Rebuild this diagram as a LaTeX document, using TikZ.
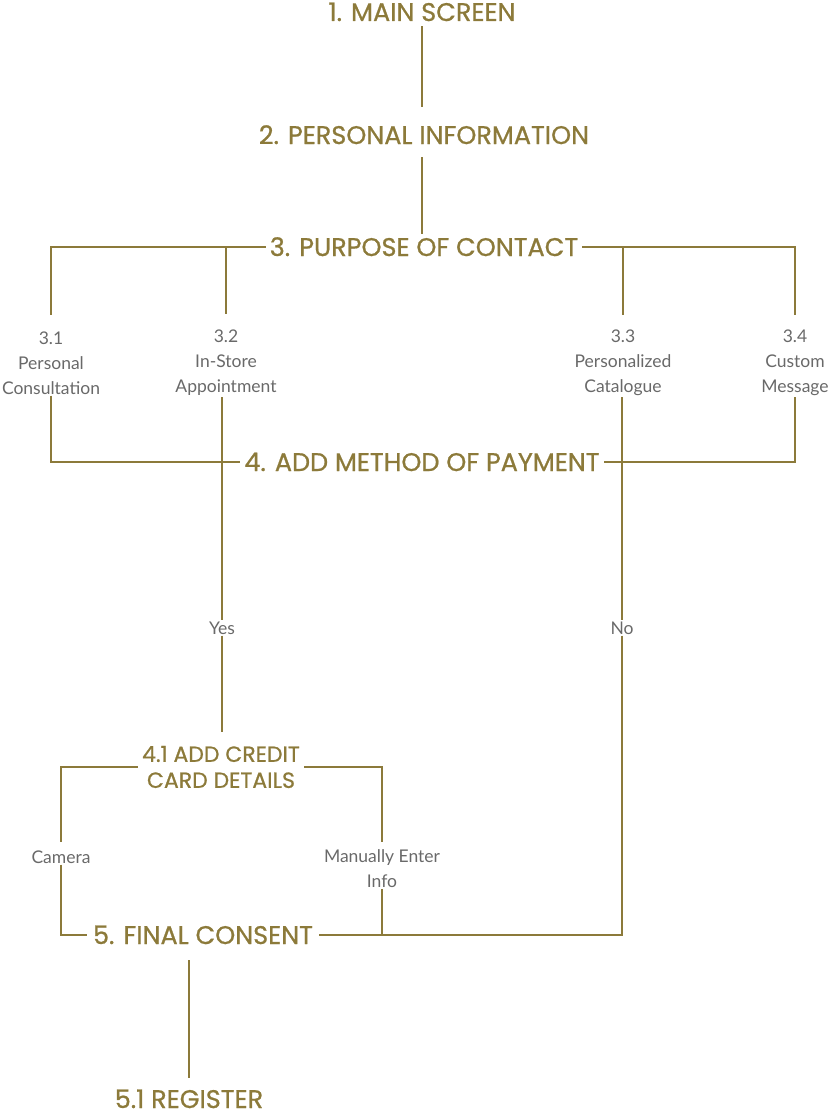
\documentclass[tikz,border=0pt]{standalone}
\usepackage{fontspec}
\usepackage{xcolor}
\setmainfont{Lato}
\newfontfamily\headfont{Poppins}[FakeBold=0.8]
\definecolor{gold}{RGB}{140,122,58}
\definecolor{labelgray}{RGB}{105,105,105}

\begin{document}
\begin{tikzpicture}[x=1pt,y=-1pt]
        \tikzset{headbase/.append style={rectangle,
                    text=gold, inner xsep=4pt, inner ysep=4pt,
                    align=center, font=\headfont\fontsize{25.5}{26}\selectfont},
                 head/.append style={headbase,
                    text height=18pt, text depth=0pt},
                 choice/.append style={rectangle,
                    text=labelgray, inner sep=1pt,
                    align=center, font=\fontsize{17.5}{25}\selectfont},
                 link/.style={draw=gold, line width=1.6pt}}
        \useasboundingbox (0,0) rectangle (830,1116);
        % main flow
        \node[head] (main) at (422,12) {1. MAIN SCREEN};
        \node[head] (info) at (424,135) {2. PERSONAL INFORMATION};
        \node[head] (purpose) at (424,247) {3. PURPOSE OF CONTACT};
        \node[choice] (c31) at (51,363) {3.1\\Personal\\Consultation};
        \node[choice] (c32) at (226,363) {3.2\\In-Store\\Appointment};
        \node[choice] (c33) at (623,363) {3.3\\Personalized\\Catalogue};
        \node[choice] (c34) at (795,363) {3.4\\Custom\\Message};
        \node[head] (payment) at (422,462) {4. ADD METHOD OF PAYMENT};
        \node[choice] (yes) at (222,628) {Yes};
        \node[choice] (no) at (622,628) {No};
        \node[headbase, font=\headfont\fontsize{22}{26}\selectfont] (card) at (221,767) {4.1 ADD CREDIT\\CARD DETAILS};
        \node[choice] (camera) at (61,857) {Camera};
        \node[choice] (manual) at (382,869) {Manually Enter\\Info};
        \node[head, inner xsep=6pt] (consent) at (203,935) {5. FINAL CONSENT};
        \node[head] (register) at (189,1099) {5.1 REGISTER};
        % connectors
        \draw[link, shorten <=1pt, shorten >=15pt] (main.south) -- (main.south |- info.north);
        \draw[link, shorten <=9pt] (info.south -| main.south) -- (main.south |- purpose.north);
        \draw[link, shorten >=15pt] (purpose.west) -| (c31.north);
        \draw[link, shorten >=15pt] (c32.north |- purpose.west) -- (c32.north);
        \draw[link, shorten >=14pt] (purpose.east) -| (c34.north);
        \draw[link, shorten >=14pt] (c33.north |- purpose.east) -- (c33.north);
        \draw[link] (c31.south) |- (payment.west);
        \draw[link] (c34.south) |- (payment.east);
        \draw[link] (c32.south -| yes.north) -- (yes.north);
        \draw[link, shorten >=10pt] (yes.south) -- (yes.south |- card.north);
        \draw[link] (c33.south -| no.north) -- (no.north);
        \draw[link] (no.south) |- (consent.east);
        \draw[link, shorten >=7pt] (card.west) -| (camera.north);
        \draw[link, shorten >=7pt] (card.east) -| (manual.north);
        \draw[link] (camera.south) |- (consent.west);
        \draw[link] (manual.south) -- (manual.south |- consent.east);
        \draw[link, shorten <=12pt, shorten >=8pt] (consent.south -| register.north) -- (register.north);
    \end{tikzpicture}
\end{document}
